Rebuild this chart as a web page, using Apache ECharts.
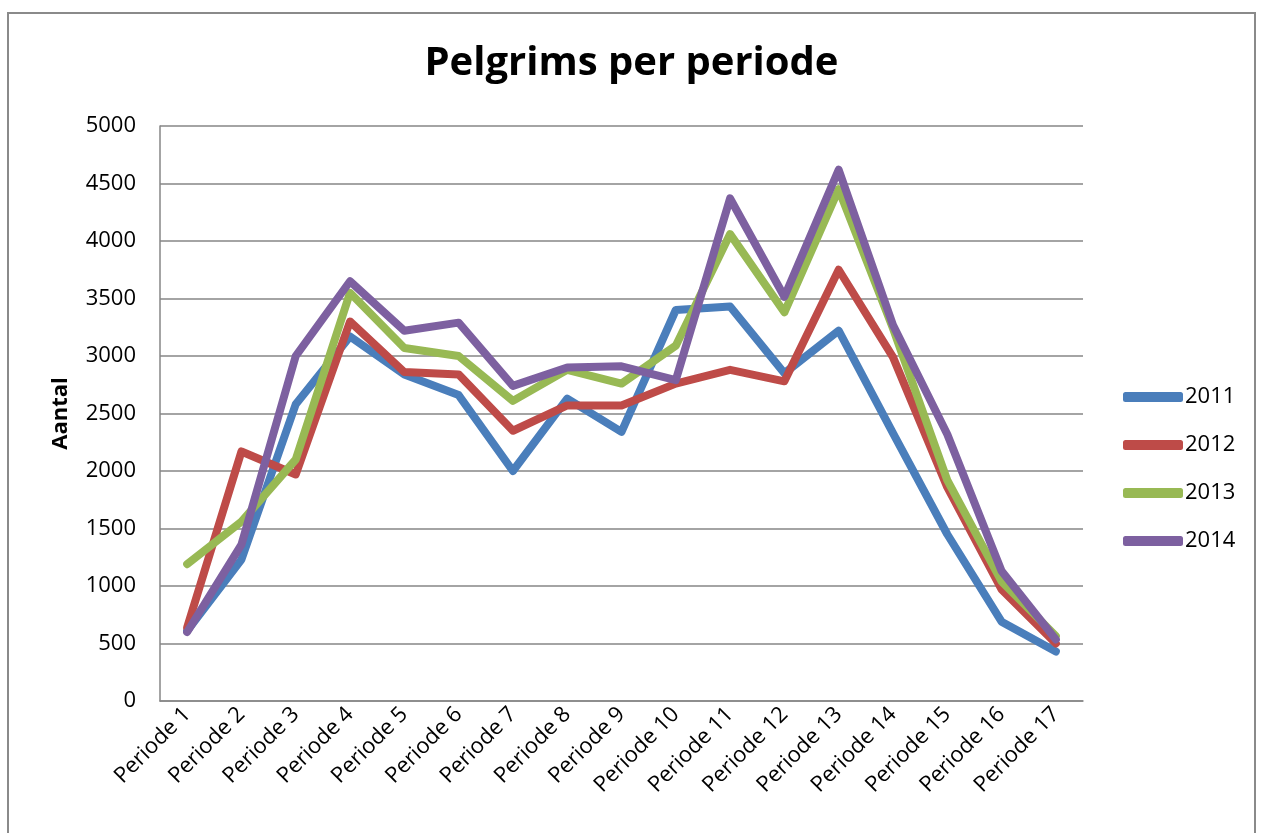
<!DOCTYPE html>
<html>
<head>
<meta charset="utf-8">
<script src="https://cdn.jsdelivr.net/npm/echarts@6/dist/echarts.min.js"></script>
<style>
html,body{margin:0;padding:0;background:#fff;}
#chart{width:1263px;height:833px;}
</style>
</head>
<body>
<div id="chart"></div>
<script>
const categories = ['Periode 1','Periode 2','Periode 3','Periode 4','Periode 5','Periode 6','Periode 7','Periode 8','Periode 9','Periode 10','Periode 11','Periode 12','Periode 13','Periode 14','Periode 15','Periode 16','Periode 17'];
const s2011 = [610, 1230, 2580, 3170, 2840, 2660, 2000, 2630, 2340, 3400, 3430, 2850, 3220, 2330, 1450, 690, 430];
const s2012 = [640, 2170, 1970, 3300, 2860, 2840, 2350, 2570, 2570, 2760, 2880, 2780, 3750, 2990, 1860, 970, 500];
const s2013 = [1190, 1560, 2100, 3550, 3070, 3000, 2610, 2880, 2760, 3090, 4060, 3380, 4450, 3240, 1920, 1040, 565];
const s2014 = [600, 1360, 3000, 3650, 3220, 3290, 2740, 2900, 2910, 2790, 4370, 3515, 4620, 3270, 2320, 1130, 535];
const seriesNames = ['2011','2012','2013','2014'];
const colors = ['#4a7ebb','#be4b48','#98b954','#7d60a0'];
const yTicks = {min: 0, max: 5000, interval: 500};

const font = '"Open Sans", "Liberation Sans", sans-serif';
const chart = echarts.init(document.getElementById('chart'));
const data = [s2011, s2012, s2013, s2014];
chart.setOption({
  animation: false,
  textStyle: {fontFamily: font},
  graphic: [{
    type: 'rect', shape: {x: 8, y: 13, width: 1247, height: 900},
    style: {fill: 'none', stroke: '#8a8a8a', lineWidth: 2}, silent: true
  }],
  title: {
    text: 'Pelgrims per periode', left: 'center', top: 39,
    textStyle: {fontFamily: font, fontSize: 40, fontWeight: 'bold', color: '#000'}
  },
  legend: {
    orient: 'vertical', left: 1118, top: 381,
    itemWidth: 60, itemHeight: 10, itemGap: 26,
    icon: 'roundRect',
    data: seriesNames,
    textStyle: {fontFamily: font, fontSize: 22, color: '#000', padding: [0,0,0,-3]}
  },
  grid: {left: 160, top: 126, width: 923, height: 575, containLabel: false},
  xAxis: {
    type: 'category', data: categories, boundaryGap: true,
    axisLine: {lineStyle: {color: '#868686', width: 1.5}},
    axisTick: {show: false},
    axisLabel: {rotate: 45, fontSize: 22, color: '#000', margin: 10, interval: 0, fontFamily: font}
  },
  yAxis: {
    type: 'value', min: yTicks.min, max: yTicks.max, interval: yTicks.interval,
    name: 'Aantal', nameLocation: 'middle', nameRotate: 90, nameGap: 88,
    nameTextStyle: {fontSize: 22, fontWeight: 'bold', color: '#000', fontFamily: font},
    axisLine: {show: true, lineStyle: {color: '#868686', width: 1.5}},
    axisTick: {show: false},
    splitLine: {lineStyle: {color: '#868686', width: 1.5}},
    axisLabel: {fontSize: 22, color: '#000', margin: 24, fontFamily: font, formatter: v => String(v)}
  },
  series: data.map((d, i) => ({
    name: seriesNames[i], type: 'line', data: d, symbol: 'none',
    lineStyle: {width: 8, color: colors[i], cap: 'round', join: 'round'},
    itemStyle: {color: colors[i]}
  }))
});
</script>
</body>
</html>
